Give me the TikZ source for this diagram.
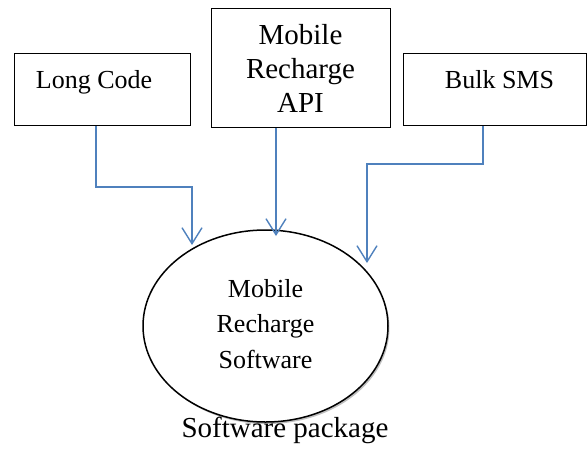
\documentclass[tikz,border=0pt]{standalone}
\usepackage{fontspec}
\setmainfont{Liberation Serif}
\usetikzlibrary{arrows.meta,shapes.geometric,shadows}
\definecolor{wordblue}{HTML}{4F81BD}
\tikzset{
  boxnode/.style={draw=black, line width=1pt, rectangle, inner sep=0pt, anchor=north west},
  txt/.style={inner sep=0pt, align=center},
  conn/.style={draw=wordblue, line width=1.4pt, -{Straight Barb[length=16pt,width=20pt,line width=1.4pt]}},
}
\begin{document}
\begin{tikzpicture}[x=1pt,y=-1pt]
\useasboundingbox (0,0) rectangle (587,448);
% boxes
\node[boxnode, minimum width=176pt, minimum height=72pt] (lc) at (14,53) {};
\node[boxnode, minimum width=179pt, minimum height=119pt] (api) at (211,8) {};
\node[boxnode, minimum width=183pt, minimum height=72pt] (bulk) at (403,53) {};
% box texts
\node[txt, anchor=base, font=\fontsize{26}{30}\selectfont] (lct) at (94,88) {Long Code};
\node[txt, font=\fontsize{29}{34}\selectfont] (apit) at (300.5,68) {Mobile\\Recharge\\API};
\node[txt, anchor=base, font=\fontsize{26}{30}\selectfont] (bulkt) at (499.5,88) {Bulk SMS};
% ellipse
\node[draw=black, line width=1.5pt, ellipse, fill=white, minimum width=245pt, minimum height=192pt, inner sep=0pt,
  drop shadow={shadow xshift=1.5pt, shadow yshift=-2pt, opacity=0.25, fill=black}] (sw) at (265.5,326) {};
\node[txt, font=\fontsize{26}{35.5}\selectfont] (swt) at (265.5,324) {Mobile\\Recharge\\Software};
\node[txt, anchor=base, font=\fontsize{29}{34}\selectfont] (pkg) at (285,437) {Software package};
% arrow tips
\coordinate (t1) at (192,245);
\coordinate (t2) at (276,236);
\coordinate (t3) at (367,263);
% connectors
\draw[conn] ([xshift=82pt]lc.south west) -- ++(0,61) -| (t1);
\draw[conn] ([xshift=65pt]api.south west) -- (t2);
\draw[conn] ([xshift=80pt]bulk.south west) -- ++(0,38) -| (t3);
\end{tikzpicture}
\end{document}
